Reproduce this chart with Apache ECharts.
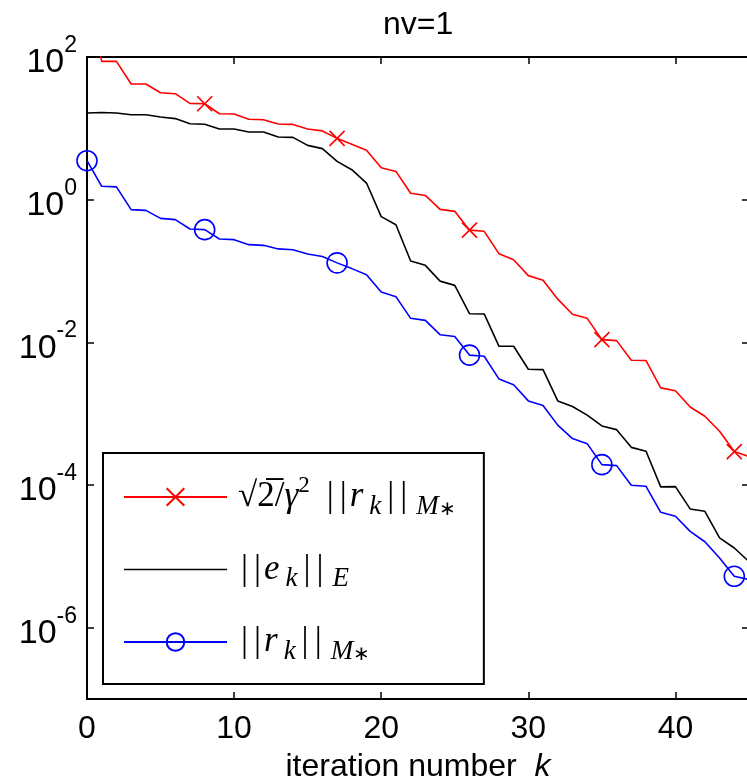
<!DOCTYPE html>
<html>
<head>
<meta charset="UTF-8">
<title>nv=1</title>
<script src="https://cdn.jsdelivr.net/npm/echarts@6.0.0/dist/echarts.min.js"></script>
<style>
    html, body { margin: 0; padding: 0; background: #fff; }
    #chart { width: 747px; height: 784px; }
</style>
</head>
<body>
<div id="chart"></div>
<script>
    // iteration number k
    var iters = [0, 1, 2, 3, 4, 5, 6, 7, 8, 9, 10, 11, 12, 13, 14, 15, 16, 17, 18, 19, 20, 21, 22,
        23, 24, 25, 26, 27, 28, 29, 30, 31, 32, 33, 34, 35, 36, 37, 38, 39, 40, 41, 42, 43, 44, 45];

    // sqrt(2)/gamma^2 ||r_k||_{M*}
    var boundVals = [750, 86.7, 86.7, 41.9, 41.9, 31.6, 30.6, 22.4, 22.1, 16.0, 15.9, 13.4, 13.2,
        11.5, 11.35, 9.8, 9.2, 7.23, 6.0, 4.94, 2.81, 2.49, 1.23, 1.146, 0.731, 0.686, 0.374, 0.360,
        0.175, 0.144, 0.0861, 0.0740, 0.0403, 0.0248, 0.0217, 0.0109, 0.01057, 0.0056, 0.00555,
        0.0023, 0.0021, 0.00124, 0.00092, 0.000566, 0.000294, 0.00025];

    // ||e_k||_E
    var errVals = [16.4, 16.7, 16.4, 15.5, 15.5, 14.4, 13.7, 11.6, 11.4, 9.8, 9.8, 8.89, 8.89,
        7.57, 7.47, 5.77, 5.19, 3.44, 2.63, 1.71, 0.578, 0.446, 0.138, 0.120, 0.0721, 0.0629,
        0.0252, 0.0250, 0.00885, 0.00880, 0.00419, 0.00414, 0.00151, 0.00126, 0.000955, 0.000673,
        0.000597, 0.000337, 0.000297, 0.0000940, 0.0000950, 0.0000462, 0.0000428, 0.0000181,
        0.0000131, 0.00000844];

    // ||r_k||_{M*}
    var resVals = [3.52, 1.54, 1.51, 0.724, 0.708, 0.547, 0.525, 0.388, 0.380, 0.281, 0.275, 0.234,
        0.229, 0.204, 0.199, 0.173, 0.160, 0.130, 0.108, 0.0889, 0.0506, 0.0437, 0.0217, 0.0203,
        0.0128, 0.0121, 0.00662, 0.00637, 0.00307, 0.00255, 0.00151, 0.00130, 0.000691, 0.000447,
        0.000380, 0.000193, 0.000187, 0.0000991, 0.0000959, 0.0000414, 0.0000364, 0.0000224,
        0.0000160, 0.0000095, 0.00000525, 0.00000472];

    // points that carry a marker
    var markIdx = [0, 8, 17, 26, 35, 44];

    var xTicks = [0, 10, 20, 30, 40];
    var yTicks = [1e-6, 1e-4, 1e-2, 1, 100];

    var legendText = {
        bound: '{g|}{r|\u221a2\u0305}{r|/}{i|\u03b3}{sp|2}{gap|}{bar||}{bar||}{i|r}{sb|k}{bar||}{bar||}{sbi|M}{ss|\u2217}',
        err: '{g|}{bar||}{bar||}{i|e}{sb|k}{bar||}{bar||}{sbi|E}',
        res: '{g|}{bar||}{bar||}{i|r}{sb|k}{bar||}{bar||}{sbi|M}{ss|\u2217}'
    };

    var FONT = 'Liberation Sans, Arial, Helvetica, sans-serif';
    var MATH = 'Liberation Serif, Times New Roman, serif';

    function points(vals) {
        return iters.map(function (k, i) {
            var p = {value: [k, vals[i]]};
            if (markIdx.indexOf(i) < 0) {
                p.symbol = 'none';
            }
            return p;
        });
    }

    var chart = echarts.init(document.getElementById('chart'));

    var option = {
        backgroundColor: '#fff',
        animation: false,
        title: {
            text: 'nv=1',
            left: 378,
            top: 4,
            textStyle: {fontFamily: FONT, fontSize: 32, fontWeight: 'normal', color: '#000'}
        },
        grid: {left: 87, right: -2, top: 57, bottom: 85, containLabel: false, outerBoundsMode: 'none'},
        xAxis: [{
            type: 'value',
            min: 0,
            max: 45,
            position: 'bottom',
            name: '{n|iteration number  }{k|k}',
            nameLocation: 'middle',
            nameGap: 50,
            nameTextStyle: {
                rich: {
                    n: {fontFamily: FONT, fontSize: 32, color: '#000', lineHeight: 36},
                    k: {fontFamily: FONT, fontSize: 32, fontStyle: 'italic', color: '#000', lineHeight: 36}
                }
            },
            splitLine: {show: false},
            axisLine: {show: true, onZero: false, lineStyle: {color: '#000', width: 2}},
            axisTick: {show: true, inside: true, length: 7, customValues: xTicks, lineStyle: {color: '#000', width: 1.5}},
            axisLabel: {
                customValues: xTicks, margin: 14,
                fontFamily: FONT, fontSize: 32, color: '#000', lineHeight: 32
            }
        }, {
            type: 'value',
            min: 0,
            max: 45,
            position: 'top',
            splitLine: {show: false},
            axisLine: {show: true, onZero: false, lineStyle: {color: '#000', width: 2}},
            axisTick: {show: true, inside: true, length: 7, customValues: xTicks, lineStyle: {color: '#000', width: 1.5}},
            axisLabel: {show: false}
        }],
        yAxis: [{
            type: 'log',
            logBase: 10,
            min: 1e-7,
            max: 100,
            position: 'left',
            splitLine: {show: false},
            minorTick: {show: false},
            axisLine: {show: true, onZero: false, lineStyle: {color: '#000', width: 2}},
            axisTick: {show: true, inside: true, length: 7, customValues: yTicks, lineStyle: {color: '#000', width: 1.5}},
            axisLabel: {
                customValues: yTicks,
                margin: 10,
                formatter: function (v) {
                    var e = Math.round(Math.log(v) / Math.LN10);
                    return '{b|10}{e|' + e + '}';
                },
                rich: {
                    b: {fontFamily: FONT, fontSize: 34, color: '#000', lineHeight: 46, verticalAlign: 'bottom'},
                    e: {fontFamily: FONT, fontSize: 23, color: '#000', lineHeight: 14, verticalAlign: 'top'}
                }
            }
        }, {
            type: 'log',
            logBase: 10,
            min: 1e-7,
            max: 100,
            position: 'right',
            splitLine: {show: false},
            minorTick: {show: false},
            axisLine: {show: true, onZero: false, lineStyle: {color: '#000', width: 2}},
            axisTick: {show: true, inside: true, length: 7, customValues: yTicks, lineStyle: {color: '#000', width: 1.5}},
            axisLabel: {show: false}
        }],
        legend: {
            orient: 'vertical',
            left: 103,
            top: 453,
            padding: [21, 28, 19, 20],
            itemGap: 32,
            itemWidth: 103,
            itemHeight: 22,
            backgroundColor: '#fff',
            borderColor: '#000',
            borderWidth: 2,
            borderRadius: 0,
            data: [
                {name: 'bound'},
                {name: 'err', icon: 'path://M0,0L0.01,0M0,9.25L100,9.25L100,10.75L0,10.75ZM0,20L0.01,20', itemStyle: {color: '#000'}},
                {name: 'res'}
            ],
            formatter: function (name) {
                return legendText[name];
            },
            textStyle: {
                color: '#000',
                rich: {
                    g: {width: 6},
                    gap: {width: 14},
                    r: {fontFamily: MATH, fontSize: 35, lineHeight: 46, color: '#000'},
                    i: {fontFamily: MATH, fontSize: 35, fontStyle: 'italic', lineHeight: 46, color: '#000'},
                    bar: {fontFamily: MATH, fontSize: 35, lineHeight: 46, color: '#000', padding: [0, 3, 0, 3]},
                    sp: {fontFamily: MATH, fontSize: 23, lineHeight: 14, verticalAlign: 'top', color: '#000'},
                    sb: {fontFamily: MATH, fontSize: 27, fontStyle: 'italic', lineHeight: 12, verticalAlign: 'bottom', color: '#000', padding: [0, 3, 0, 6]},
                    sbi: {fontFamily: MATH, fontSize: 27, fontStyle: 'italic', lineHeight: 12, verticalAlign: 'bottom', color: '#000', padding: [0, 0, 0, 6]},
                    ss: {fontFamily: MATH, fontSize: 20, lineHeight: 6, verticalAlign: 'bottom', color: '#000'}
                }
            }
        },
        series: [{
            name: 'bound',
            type: 'line',
            data: points(boundVals),
            symbol: 'path://M0,0L10,10M10,0L0,10',
            symbolSize: 15,
            showAllSymbol: true,
            lineStyle: {color: '#ff0000', width: 1.6},
            itemStyle: {color: '#ff0000', borderColor: '#ff0000', borderWidth: 1.6}
        }, {
            name: 'err',
            type: 'line',
            data: points(errVals),
            symbol: 'none',
            lineStyle: {color: '#000', width: 1.6},
            itemStyle: {color: '#000'}
        }, {
            name: 'res',
            type: 'line',
            data: points(resVals),
            symbol: 'circle',
            symbolSize: 20,
            showAllSymbol: true,
            lineStyle: {color: '#0000ff', width: 1.6},
            itemStyle: {color: 'rgba(0,0,0,0)', borderColor: '#0000ff', borderWidth: 1.6}
        }]
    };

    chart.setOption(option);
</script>
</body>
</html>
